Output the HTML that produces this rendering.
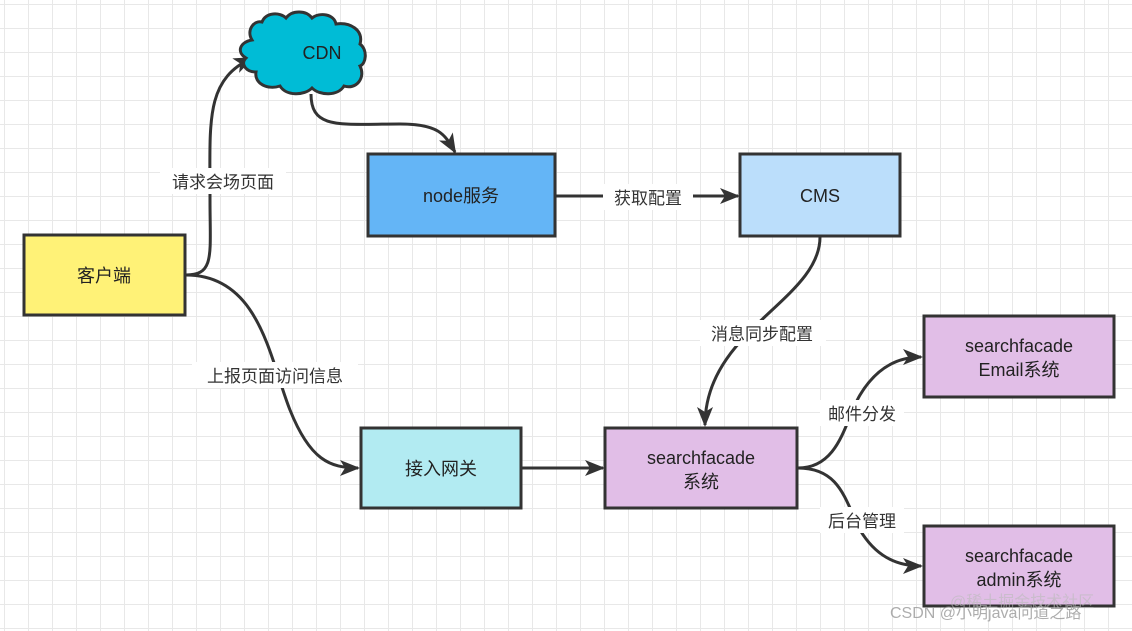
<!DOCTYPE html>
<html><head><meta charset="utf-8"><style>
html,body{margin:0;padding:0;}
body{width:1132px;height:631px;overflow:hidden;background:#fff;
background-image:linear-gradient(#e8e8e8 1px,transparent 1px),linear-gradient(90deg,#e8e8e8 1px,transparent 1px);
background-size:24px 24px;background-position:4px 4px;font-family:"Liberation Sans","Noto Sans CJK SC",sans-serif;}
svg{position:absolute;left:0;top:0}
</style></head><body>
<svg width="1132" height="631" viewBox="0 0 1132 631" font-family="Liberation Sans, Noto Sans CJK SC, sans-serif">
<defs><marker id="a" markerWidth="10" markerHeight="10" refX="8" refY="5" orient="auto" markerUnits="userSpaceOnUse"><path d="M0,0 L10,5 L0,10 L3,5 Z" fill="#333"/></marker>
<marker id="b" markerWidth="20" markerHeight="16" refX="18" refY="8" orient="auto" markerUnits="userSpaceOnUse"><path d="M0,0 L20,8 L0,16 L5,8 Z" fill="#333"/></marker></defs>
<g fill="none" stroke="#333" stroke-width="3">
<path d="M186,275 C215,275 210,255 210,200 C210,120 205,80 252,58" marker-end="url(#b)"/>
<path d="M186,275 C260,275 270,360 290,410 C310,460 330,468 358,468" marker-end="url(#b)"/>
<path d="M311,94 C311,130 340,124 400,124 C440,124 445,135 455,152" marker-end="url(#b)"/>
<path d="M556,196 L738,196" marker-end="url(#b)"/>
<path d="M820,237 C820,300 705,330 705,425" marker-end="url(#b)"/>
<path d="M522,468 L603,468" marker-end="url(#b)"/>
<path d="M798,468 C840,468 845,420 860,395 C875,370 895,357 921,357" marker-end="url(#b)"/>
<path d="M798,468 C840,468 845,500 860,530 C875,555 895,566 921,566" marker-end="url(#b)"/>
</g>
<g stroke="#333" stroke-width="3">
<rect x="24" y="235" width="161" height="80" fill="#fff277"/>
<rect x="368" y="154" width="187" height="82" fill="#64b5f6"/>
<rect x="740" y="154" width="160" height="82" fill="#bbdefb"/>
<rect x="361" y="428" width="160" height="80" fill="#b2ebf2"/>
<rect x="605" y="428" width="192" height="80" fill="#e1bee7"/>
<rect x="924" y="316" width="190" height="81" fill="#e1bee7"/>
<rect x="924" y="526" width="190" height="80" fill="#e1bee7"/>
<path fill="#00bcd6" d="M252,40 C246,30 254,20 262,22 C266,12 280,12 286,18 C292,10 306,10 312,18 C320,12 334,14 336,24 C350,22 364,30 360,44 C368,50 366,64 360,66 C366,78 356,90 344,86 C338,96 320,96 312,88 C304,96 286,96 280,86 C268,90 254,84 256,72 C246,72 240,64 246,58 C236,52 240,42 252,40 Z"/>
</g>
<g font-size="18" fill="#222" text-anchor="middle">
<text x="104" y="282">客户端</text>
<text x="322" y="59">CDN</text>
<text x="461" y="202">node服务</text>
<text x="820" y="202">CMS</text>
<text x="441" y="475">接入网关</text>
<text x="701" y="464">searchfacade</text>
<text x="701" y="488">系统</text>
<text x="1019" y="352">searchfacade</text>
<text x="1019" y="376">Email系统</text>
<text x="1019" y="562">searchfacade</text>
<text x="1019" y="586">admin系统</text>
</g>
<g font-size="17" fill="#333" text-anchor="middle">
<rect x="160" y="168" width="126" height="26" fill="#fff"/><text x="223" y="188">请求会场页面</text>
<rect x="192" y="362" width="166" height="26" fill="#fff"/><text x="275" y="382">上报页面访问信息</text>
<rect x="603" y="184" width="90" height="26" fill="#fff"/><text x="648" y="204">获取配置</text>
<rect x="700" y="320" width="126" height="26" fill="#fff"/><text x="762" y="340">消息同步配置</text>
<rect x="820" y="400" width="84" height="26" fill="#fff"/><text x="862" y="420">邮件分发</text>
<rect x="820" y="507" width="84" height="26" fill="#fff"/><text x="862" y="527">后台管理</text>
</g>
<text x="890" y="618" font-size="16" fill="#999" opacity="0.8">CSDN @小明java问道之路</text>
<text x="950" y="607" font-size="16" fill="#bbb" opacity="0.6">@稀土掘金技术社区</text>
</svg>
</body></html>
